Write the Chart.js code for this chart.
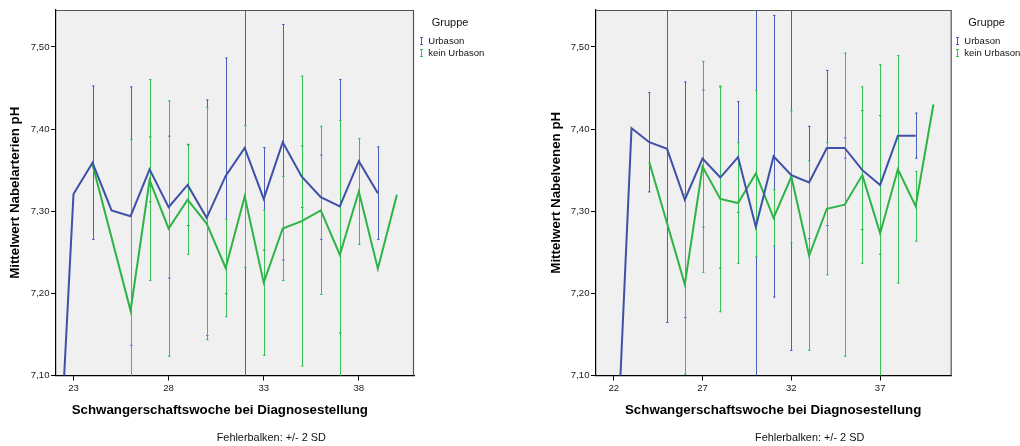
<!DOCTYPE html>
<html><head><meta charset="utf-8">
<script src="https://cdn.jsdelivr.net/npm/chart.js@4.4.0/dist/chart.umd.min.js"></script>
<style>
html,body{margin:0;padding:0;background:#fff;}
body{width:1020px;height:446px;position:relative;overflow:hidden;font-family:"Liberation Sans",Arial,sans-serif;color:#111;}
canvas{position:absolute;top:0;}
.t{position:absolute;white-space:nowrap;line-height:1;}
.b{font-weight:bold;font-size:13.3px;color:#000;}
.g{font-size:11px;}
.l{font-size:9.5px;}
.f{font-size:10.9px;}
svg{position:absolute;}
</style></head>
<body>
<canvas id="c1" width="510" height="446" style="left:0"></canvas>
<canvas id="c2" width="510" height="446" style="left:510px"></canvas>

<div class="t b" style="left:71.7px;top:402.8px">Schwangerschaftswoche bei Diagnosestellung</div>
<div class="t f" style="left:216.7px;top:432.3px">Fehlerbalken: +/- 2 SD</div>
<div class="t g" style="left:431.7px;top:17.3px">Gruppe</div>
<svg style="left:418.5px;top:36.5px" width="5" height="8"><path d="M1 0.5H4M2.5 0.5V7.5M1 7.5H4" stroke="#4a5fba" fill="none"/></svg>
<div class="t l" style="left:428.3px;top:36px">Urbason</div>
<svg style="left:418.5px;top:48.5px" width="5" height="8"><path d="M1 0.5H4M2.5 0.5V7.5M1 7.5H4" stroke="#38bf55" fill="none"/></svg>
<div class="t l" style="left:428.3px;top:48px">kein Urbason</div>

<div class="t b" style="left:625px;top:402.8px">Schwangerschaftswoche bei Diagnosestellung</div>
<div class="t f" style="left:755px;top:432.3px">Fehlerbalken: +/- 2 SD</div>
<div class="t g" style="left:968.3px;top:17.3px">Gruppe</div>
<svg style="left:954.5px;top:36.5px" width="5" height="8"><path d="M1 0.5H4M2.5 0.5V7.5M1 7.5H4" stroke="#4a5fba" fill="none"/></svg>
<div class="t l" style="left:964.3px;top:36px">Urbason</div>
<svg style="left:954.5px;top:48.5px" width="5" height="8"><path d="M1 0.5H4M2.5 0.5V7.5M1 7.5H4" stroke="#38bf55" fill="none"/></svg>
<div class="t l" style="left:964.3px;top:48px">kein Urbason</div>

<script>
// ---- data ----
const weeks = [22,23,24,25,26,27,28,29,30,31,32,33,34,35,36,37,38,39,40];

// Nabelarterien pH (left)
const artUrbMean  = [6.87,7.321,7.359,7.301,7.294,7.351,7.305,7.332,7.292,7.343,7.377,7.315,7.384,7.342,7.317,7.306,7.361,7.322,null];
const artUrbErr   = [null,null,0.094,null,0.158,0.040,0.087,0.050,0.144,0.144,0.320,0.063,0.144,0.038,0.052,0.155,null,0.057,null];
const artKeinMean = [null,null,7.357,null,7.179,7.338,7.279,7.314,7.285,7.231,7.318,7.213,7.279,7.288,7.301,7.247,7.324,7.230,7.320];
const artKeinErr  = [null,null,null,null,0.209,0.123,0.156,0.067,0.142,0.060,0.087,0.089,0.064,0.177,0.103,0.164,0.065,null,null];

// Nabelvenen pH (right)
const venUrbMean  = [6.917,7.401,7.384,7.376,7.314,7.364,7.341,7.366,7.281,7.367,7.344,7.335,7.377,7.377,7.350,7.332,7.392,7.392,null];
const venUrbErr   = [null,null,0.061,0.212,0.144,0.084,0.111,0.068,0.320,0.172,0.214,0.069,0.095,0.013,0.073,0.085,null,0.028,null];
const venKeinMean = [null,null,7.360,null,7.211,7.354,7.315,7.310,7.346,7.292,7.342,7.246,7.303,7.308,7.344,7.273,7.351,7.306,7.430];
const venKeinErr  = [null,null,null,null,0.110,0.129,0.138,0.074,0.102,0.035,0.081,0.116,0.081,0.185,0.108,0.206,0.139,0.043,null];

const yTicks = [7.10,7.20,7.30,7.40,7.50];
const artXTicks = [23,28,33,38];
const venXTicks = [22,27,32,37];
const seriesNames = ['Urbason','kein Urbason'];

// ---- styling ----
const FONT = '"Liberation Sans", Arial, sans-serif';
const BLUE = '#3d51a8', BLUE_BAR = '#4a5fba';
const GREEN = '#2db446', GREEN_BAR = '#38bf55';

function build(means, errs){
  const out = [];
  weeks.forEach((w,i)=>{ if(means[i]!=null) out.push({x:w, y:means[i], err:errs[i]}); });
  return out;
}

const bgPlugin = {
  id:'bg',
  beforeDraw(chart){
    const {ctx, chartArea:a} = chart;
    ctx.save(); ctx.fillStyle = '#f0f0f0';
    ctx.fillRect(a.left, a.top, a.right-a.left, a.bottom-a.top);
    ctx.restore();
  }
};
const errorBars = {
  id:'errorBars',
  beforeDatasetsDraw(chart){
    const {ctx, chartArea:a, scales:{x,y}} = chart;
    ctx.save();
    ctx.beginPath(); ctx.rect(a.left, a.top, a.right-a.left, a.bottom-a.top); ctx.clip();
    chart.data.datasets.forEach(ds=>{
      ctx.strokeStyle = ds.errColor; ctx.lineWidth = 1;
      ds.data.forEach(p=>{
        if(p.err==null) return;
        const px = Math.round(x.getPixelForValue(p.x))+0.5;
        const t = y.getPixelForValue(p.y+p.err), b = y.getPixelForValue(p.y-p.err);
        ctx.beginPath();
        ctx.moveTo(px,t); ctx.lineTo(px,b);
        ctx.moveTo(px-1.5,t+0.5); ctx.lineTo(px+1,t+0.5);
        ctx.moveTo(px-1.5,b-0.5); ctx.lineTo(px+1,b-0.5);
        ctx.stroke();
      });
    });
    ctx.restore();
  }
};
const frame = {
  id:'frame',
  afterDraw(chart){
    const {ctx, chartArea:a} = chart;
    ctx.save(); ctx.strokeStyle = '#555'; ctx.lineWidth = 1.2;
    ctx.beginPath();
    ctx.moveTo(a.left, a.top+0.5); ctx.lineTo(a.right-0.5, a.top+0.5); ctx.lineTo(a.right-0.5, a.bottom);
    ctx.stroke(); ctx.restore();
  }
};

function makeChart(id, cfg){
  return new Chart(document.getElementById(id), {
    type:'line',
    data:{datasets:[
      {label:seriesNames[0], data:build(cfg.um, cfg.ue), borderColor:BLUE, errColor:BLUE_BAR, borderWidth:2, pointRadius:0, tension:0, spanGaps:true},
      {label:seriesNames[1], data:build(cfg.km, cfg.ke), borderColor:GREEN, errColor:GREEN_BAR, borderWidth:2, pointRadius:0, tension:0, spanGaps:true}
    ]},
    options:{
      responsive:false, animation:false, events:[],
      layout:{padding:{left:0, top:10, right:cfg.padRight, bottom:0}},
      plugins:{legend:{display:false}, tooltip:{enabled:false}},
      scales:{
        x:{type:'linear', min:cfg.xmin, max:cfg.xmax,
           afterBuildTicks:s=>{ s.ticks = cfg.xTicks.map(v=>({value:v})); },
           afterFit:s=>{ s.height = 70.5; },
           ticks:{font:{size:9.6, family:FONT}, color:'#222', padding:2, autoSkip:false, maxRotation:0, callback:v=>String(v)},
           grid:{drawOnChartArea:false, drawTicks:true, tickLength:5, color:'#000'},
           border:{color:'#000', width:1.2},
           title:{display:false}},
        y:{type:'linear', min:7.10, max:7.545,
           afterBuildTicks:s=>{ s.ticks = yTicks.map(v=>({value:v})); },
           afterFit:s=>{ s.width = cfg.yWidth; },
           ticks:{font:{size:9.6, family:FONT}, color:'#222', padding:1.5, autoSkip:false, callback:v=>v.toFixed(2).replace('.',',')},
           grid:{drawOnChartArea:false, drawTicks:true, tickLength:5, color:'#000'},
           border:{color:'#000', width:1.2},
           title:{display:true, text:cfg.yTitle, color:'#000', font:{size:13.3, weight:'bold', family:FONT}, padding:{top:cfg.titlePad, bottom:0}}}
      }
    },
    plugins:[bgPlugin, errorBars, frame]
  });
}

makeChart('c1', {um:artUrbMean, ue:artUrbErr, km:artKeinMean, ke:artKeinErr,
  xmin:22.08, xmax:40.9, xTicks:artXTicks, yWidth:56, padRight:96, titlePad:7.5,
  yTitle:'Mittelwert Nabelarterien pH'});
makeChart('c2', {um:venUrbMean, ue:venUrbErr, km:venKeinMean, ke:venKeinErr,
  xmin:21, xmax:41.03, xTicks:venXTicks, yWidth:86, padRight:68.3, titlePad:38,
  yTitle:'Mittelwert Nabelvenen pH'});
</script>
</body></html>
